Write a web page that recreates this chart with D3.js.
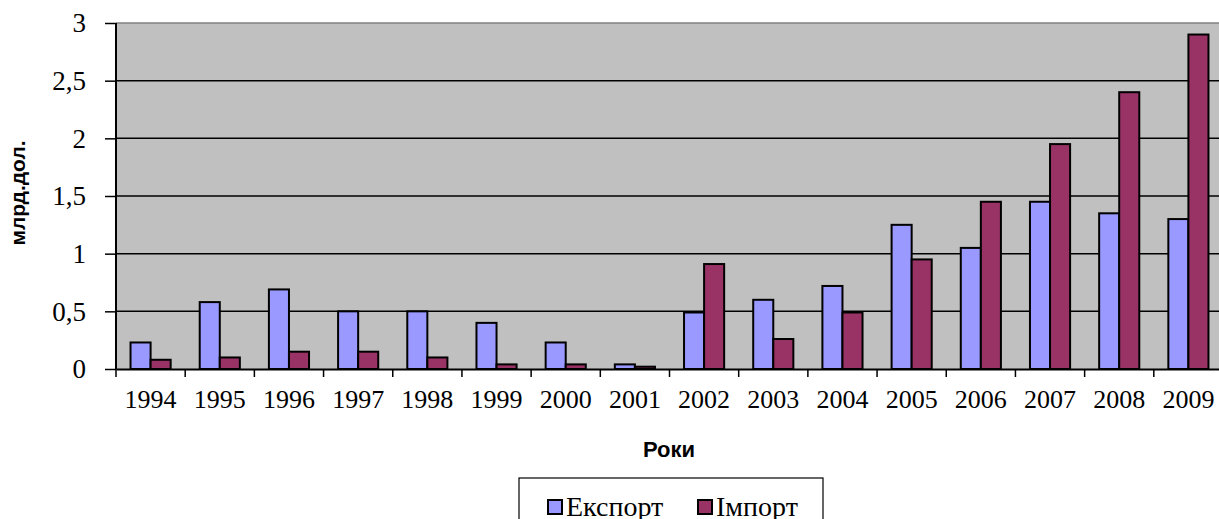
<!DOCTYPE html>
<html>
<head>
<meta charset="utf-8">
<script src="https://cdn.jsdelivr.net/npm/d3@7"></script>
<style>
  body { margin: 0; background: #fff; }
  svg { display: block; }
</style>
</head>
<body>
<svg width="1219" height="519"></svg>
<script>
// дані з рисунку (млрд. дол.)
var years = ["1994","1995","1996","1997","1998","1999","2000","2001","2002","2003","2004","2005","2006","2007","2008","2009"];
var exportVals = [0.23, 0.58, 0.69, 0.5, 0.5, 0.4, 0.23, 0.04, 0.49, 0.6, 0.72, 1.25, 1.05, 1.45, 1.35, 1.3];
var importVals = [0.08, 0.1, 0.15, 0.15, 0.1, 0.04, 0.04, 0.02, 0.91, 0.26, 0.49, 0.95, 1.45, 1.95, 2.4, 2.9];
var yTicks = [0, 0.5, 1, 1.5, 2, 2.5, 3];
var seriesNames = ["Експорт", "Імпорт"];
var colors = ["#9999FF", "#993366"];

var svg = d3.select("svg");
var margin = { top: 23, left: 116 },
  width = 1107,
  height = 346;

var x = d3.scaleBand().domain(years).range([0, width]);
var y = d3.scaleLinear().domain([0, 3]).range([height, 0]);
var barW = x.bandwidth() * 0.29;

var g = svg.append("g")
  .attr("transform", "translate(" + margin.left + "," + margin.top + ")");

g.append("rect")
  .attr("width", width)
  .attr("height", height)
  .attr("fill", "#C0C0C0");

g.append("line")
  .attr("x1", 0).attr("x2", width)
  .attr("y1", 0).attr("y2", 0)
  .attr("stroke", "#808080")
  .attr("stroke-width", 1.5);

// сітка
g.selectAll(".grid")
  .data(yTicks.filter(function (d) { return d > 0 && d < 3; }))
  .enter().append("line")
  .attr("class", "grid")
  .attr("x1", 0).attr("x2", width)
  .attr("y1", function (d) { return y(d); })
  .attr("y2", function (d) { return y(d); })
  .attr("stroke", "#000")
  .attr("stroke-width", 1.5);

var serif = "'Liberation Serif', 'Times New Roman', serif";
var sans = "'Liberation Sans', Arial, sans-serif";

// вісь Y
var yAxis = g.append("g")
  .call(d3.axisLeft(y).tickValues(yTicks).tickSize(11).tickPadding(19)
    .tickFormat(function (d) { return String(d).replace(".", ","); }));
yAxis.select(".domain").attr("stroke", "#000").attr("stroke-width", 2).attr("d", "M0,0V" + height);
yAxis.selectAll(".tick line").attr("stroke", "#000").attr("stroke-width", 1.5);
yAxis.selectAll(".tick text")
  .attr("font-family", serif).attr("font-size", 27).attr("fill", "#000").attr("dy", "0.33em");

// вісь X
var xAxis = g.append("g")
  .attr("transform", "translate(0," + height + ")")
  .call(d3.axisBottom(x).tickSize(0).tickPadding(21));
xAxis.select(".domain").attr("stroke", "#000").attr("stroke-width", 2);
xAxis.selectAll(".tick text")
  .attr("font-family", serif).attr("font-size", 26).attr("fill", "#000");

g.selectAll(".xtick")
  .data(years)
  .enter().append("line")
  .attr("class", "xtick")
  .attr("x1", function (d) { return x(d); })
  .attr("x2", function (d) { return x(d); })
  .attr("y1", height).attr("y2", height + 8)
  .attr("stroke", "#000").attr("stroke-width", 1.5);

// стовпці
var groups = g.selectAll(".year")
  .data(years)
  .enter().append("g")
  .attr("class", "year")
  .attr("transform", function (d) { return "translate(" + (x(d) + x.bandwidth() / 2 - barW) + ",0)"; });

groups.append("rect")
  .attr("x", 0)
  .attr("y", function (d, i) { return y(exportVals[i]); })
  .attr("width", barW)
  .attr("height", function (d, i) { return height - y(exportVals[i]); })
  .attr("fill", colors[0]).attr("stroke", "#000").attr("stroke-width", 2);

groups.append("rect")
  .attr("x", barW)
  .attr("y", function (d, i) { return y(importVals[i]); })
  .attr("width", barW)
  .attr("height", function (d, i) { return height - y(importVals[i]); })
  .attr("fill", colors[1]).attr("stroke", "#000").attr("stroke-width", 2);

// підписи осей
svg.append("text")
  .attr("transform", "translate(25,193) rotate(-90)")
  .attr("text-anchor", "middle")
  .attr("font-family", sans).attr("font-weight", "bold").attr("font-size", 21)
  .text("млрд.дол.");

svg.append("text")
  .attr("x", 669).attr("y", 457)
  .attr("text-anchor", "middle")
  .attr("font-family", sans).attr("font-weight", "bold").attr("font-size", 22)
  .text("Роки");

// легенда
var legend = svg.append("g");
legend.append("rect")
  .attr("x", 519).attr("y", 478).attr("width", 304).attr("height", 60)
  .attr("fill", "#fff").attr("stroke", "#000").attr("stroke-width", 1.2);

var legX = [548, 698];
seriesNames.forEach(function (name, i) {
  legend.append("rect")
    .attr("x", legX[i]).attr("y", 500).attr("width", 14).attr("height", 14)
    .attr("fill", colors[i]).attr("stroke", "#000").attr("stroke-width", 2);
  legend.append("text")
    .attr("x", legX[i] + 18).attr("y", 516)
    .attr("font-family", serif).attr("font-size", 28)
    .text(name);
});
</script>
</body>
</html>
